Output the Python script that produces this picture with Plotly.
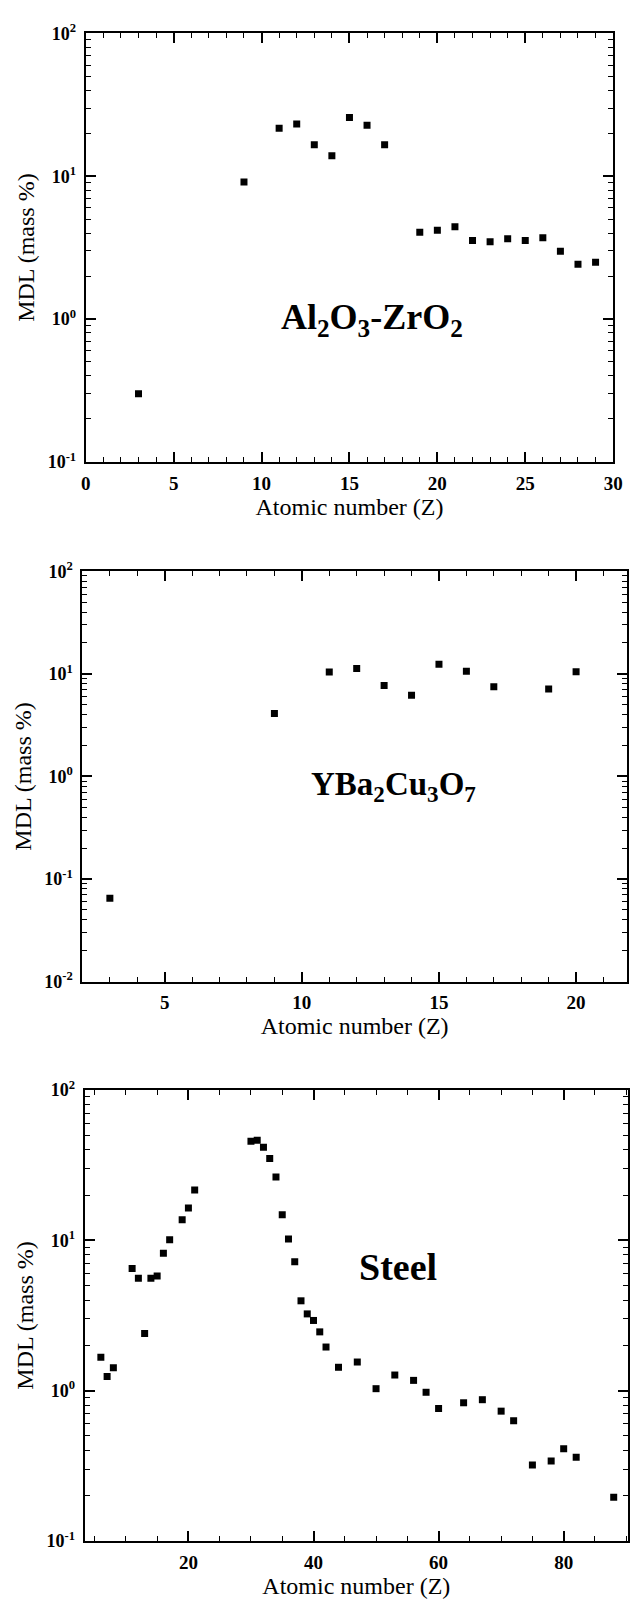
import plotly.graph_objects as go

# ---------------- data ----------------
al_z = [3, 9, 11, 12, 13, 14, 15, 16, 17, 19, 20, 21, 22, 23, 24, 25, 26, 27, 28, 29]
al_mdl = [0.30, 9.1, 21.7, 23.2, 16.6, 13.9, 25.8, 22.7, 16.6, 4.05, 4.18, 4.43,
          3.55, 3.48, 3.65, 3.55, 3.70, 2.98, 2.42, 2.50]

yb_z = [3, 9, 11, 12, 13, 14, 15, 16, 17, 19, 20]
yb_mdl = [0.065, 4.1, 10.4, 11.3, 7.7, 6.2, 12.4, 10.6, 7.5, 7.1, 10.5]

st_z = [6, 7, 8, 11, 12, 13, 14, 15, 16, 17, 19, 20, 21,
        30, 31, 32, 33, 34, 35, 36, 37, 38, 39, 40, 41, 42, 44, 47, 50, 53, 56, 58, 60,
        64, 67, 70, 72, 75, 78, 80, 82, 88]
st_mdl = [1.67, 1.24, 1.42, 6.5, 5.6, 2.4, 5.6, 5.8, 8.2, 10.1, 13.7, 16.4, 21.6,
          45.6, 46.4, 41.7, 35.1, 26.4, 14.8, 10.2, 7.2, 3.96, 3.24, 2.93, 2.46, 1.95, 1.43,
          1.55, 1.03, 1.27, 1.17, 0.975, 0.76, 0.83, 0.87, 0.73, 0.63, 0.32, 0.34, 0.41,
          0.36, 0.195]

labels = ["Al<sub>2</sub>O<sub>3</sub>-ZrO<sub>2</sub>",
          "YBa<sub>2</sub>Cu<sub>3</sub>O<sub>7</sub>",
          "Steel"]
x_title = "Atomic number (Z)"
y_title = "MDL (mass %)"

# ---------------- figure ----------------
W, H = 642, 1614
FONT = "Liberation Serif"


def px_x(p):
    return p / W


def px_y(p):
    return 1 - p / H


def decade_ticks(lo, hi):
    vals, txt, minor = [], [], []
    for e in range(lo, hi + 1):
        vals.append(10.0 ** e)
        txt.append("<b>10<sup>%d</sup></b>" % e)
        if e < hi:
            minor += [m * 10.0 ** e for m in range(2, 10)]
    return vals, txt, minor


fig = go.Figure()

panels = [
    dict(z=al_z, v=al_mdl, xd=(82.7, 622.7), yd=(21.7, 456), xr=(0, 30),
         xt=[0, 5, 10, 15, 20, 25, 30], xminor=1, ye=(-1, 2),
         lab=(376, 312, 36)),
    dict(z=yb_z, v=yb_mdl, xd=(79.3, 636.7), yd=(567, 983), xr=(2.0, 21.85),
         xt=[5, 10, 15, 20], xminor=1, ye=(-2, 2),
         lab=(398, 785, 33)),
    dict(z=st_z, v=st_mdl, xd=(81.5, 638), yd=(1093, 1550), xr=(3.4, 90.3),
         xt=[20, 40, 60, 80], xminor=5, ye=(-1, 2),
         lab=(402, 1272, 38)),
]

layout = dict(
    width=W, height=H,
    margin=dict(l=0, r=0, t=0, b=0),
    paper_bgcolor="white", plot_bgcolor="white",
    showlegend=False,
    font=dict(family=FONT, color="black", size=19),
    annotations=[],
)

for i, p in enumerate(panels):
    n = "" if i == 0 else str(i + 1)
    xa, ya = "x" + n, "y" + n
    fig.add_trace(go.Scatter(
        x=p["z"], y=p["v"], mode="markers",
        marker=dict(symbol="square", size=7, color="black"),
        xaxis=xa, yaxis=ya,
    ))
    vals, txt, minor = decade_ticks(*p["ye"])
    layout["xaxis" + n] = dict(
        domain=[px_x(p["xd"][0]), px_x(p["xd"][1])],
        anchor=ya, range=list(p["xr"]),
        tickmode="array", tickvals=p["xt"],
        ticktext=["<b>%d</b>" % t for t in p["xt"]],
        ticks="inside", ticklen=10, tickwidth=1.8, tickcolor="black",
        showline=True, linewidth=2, linecolor="black", mirror="ticks",
        showgrid=False, zeroline=False,
        tickfont=dict(family=FONT, size=19, color="black"),
        ticklabelstandoff=3,
        minor=dict(tick0=0, dtick=p["xminor"], ticks="inside", ticklen=5,
                   tickwidth=1.4, tickcolor="black", showgrid=False),
        title=dict(text=x_title, font=dict(family=FONT, size=24, color="black"),
                   standoff=5),
    )
    layout["yaxis" + n] = dict(
        domain=[px_y(p["yd"][1]), px_y(p["yd"][0])],
        anchor=xa, type="log",
        range=[p["ye"][0], p["ye"][1]],
        tickmode="array", tickvals=vals, ticktext=txt,
        ticks="inside", ticklen=10, tickwidth=1.8, tickcolor="black",
        showline=True, linewidth=2, linecolor="black", mirror="ticks",
        showgrid=False, zeroline=False,
        tickfont=dict(family=FONT, size=18, color="black"),
        ticklabelstandoff=4,
        minor=dict(tickmode="array", tickvals=minor, ticks="inside", ticklen=5,
                   tickwidth=1.4, tickcolor="black", showgrid=False),
        title=dict(text=y_title, font=dict(family=FONT, size=24, color="black"),
                   standoff=6),
    )
    lx, ly, ls = p["lab"]
    layout["annotations"].append(dict(
        text="<b>%s</b>" % labels[i], xref="paper", yref="paper",
        x=px_x(lx), y=px_y(ly), xanchor="center", yanchor="middle",
        showarrow=False, font=dict(family=FONT, size=ls, color="black"),
    ))

fig.update_layout(**layout)
fig.write_html("out.html")
